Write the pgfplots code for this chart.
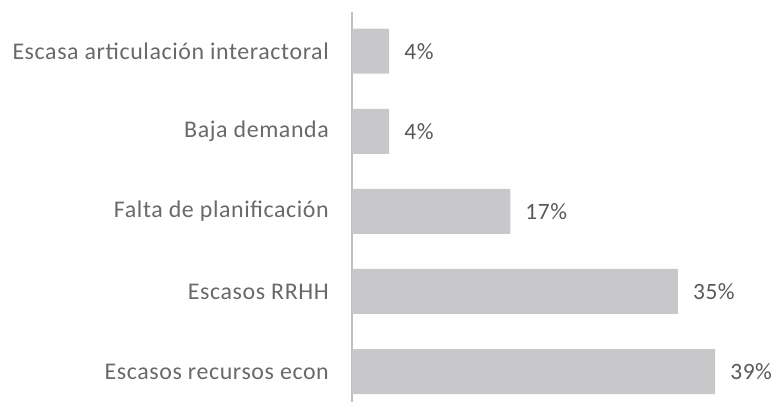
\documentclass[border=0pt]{standalone}
\usepackage{fontspec}
\setmainfont{Carlito}[LetterSpace=2.5]
\usepackage{pgfplots}
\pgfplotsset{compat=1.18}
\definecolor{barg}{RGB}{200,200,202}
\definecolor{axg}{RGB}{191,191,191}
\definecolor{labg}{RGB}{105,105,105}
\definecolor{txtg}{RGB}{89,89,89}
\begin{document}
\begin{tikzpicture}
\path[use as bounding box] (0,0) rectangle (775bp,406bp);
\begin{axis}[at={(352bp,4bp)}, anchor=south west, scale only axis,
  width=419bp, height=390bp,
  xmin=0, xmax=45, ymin=-0.38, ymax=4.49,
  xbar, bar width=45bp, bar shift=0pt,
  axis x line=none, axis y line*=left,
  axis line style={draw=axg, line width=1.8pt},
  y axis line style={-},
  ytick={0,1,2,3,4}, major tick length=0pt,
  yticklabels={Escasos recursos econ, Escasos RRHH, Falta de planificación, Baja demanda, Escasa articulación interactoral},
  yticklabel style={font=\fontsize{24}{26}\selectfont, text=labg, inner sep=0pt, xshift=-23bp},
  /pgf/number format/assume math mode=true,
  nodes near coords={\pgfmathprintnumber{\pgfplotspointmeta}\%},
  nodes near coords style={font=\fontsize{23.5}{26}\selectfont, text=txtg, anchor=west, inner sep=0pt, xshift=15bp},
  clip=false]
\addplot[fill=barg, draw=none] coordinates {(39,0) (35,1) (17,2) (4,3) (4,4)};
\end{axis}
\end{tikzpicture}
\end{document}
